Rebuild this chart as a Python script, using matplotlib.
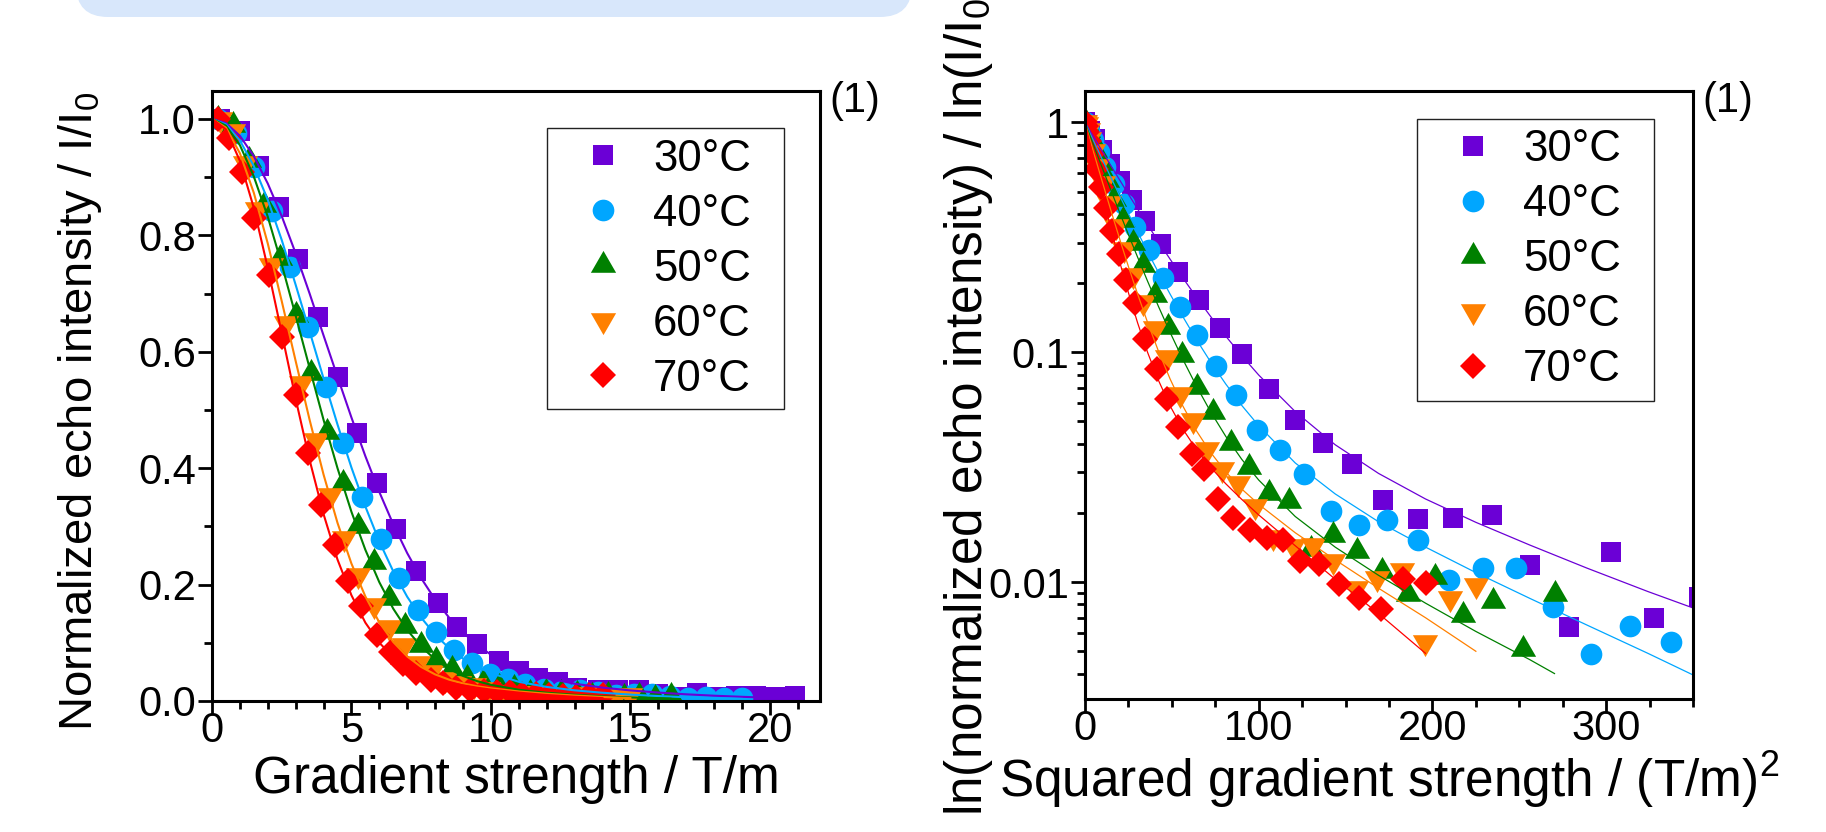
import matplotlib
matplotlib.use('Agg')
import matplotlib.pyplot as plt
import matplotlib.ticker as mticker
from matplotlib.patches import FancyBboxPatch, Rectangle
from matplotlib.transforms import IdentityTransform
import numpy as np

plt.rcParams['font.family'] = ['Liberation Sans', 'DejaVu Sans']
plt.rcParams['mathtext.fontset'] = 'custom'
plt.rcParams['mathtext.rm'] = 'Liberation Sans'
plt.rcParams['mathtext.default'] = 'regular'

# ---------------- data ----------------
labels = ['30°C', '40°C', '50°C', '60°C', '70°C']

g_30 = [0.3, 1.0, 1.7, 2.4, 3.1, 3.8, 4.5, 5.2, 5.9, 6.6, 7.3, 8.1, 8.8, 9.5, 10.3, 11.0, 11.7,
        12.4, 13.1, 13.85, 14.55, 15.3, 16.0, 16.7, 17.4, 18.1, 18.8, 19.5, 20.2, 20.9]
I_30 = [1.0, 0.979, 0.919, 0.848, 0.759, 0.659, 0.556, 0.461, 0.374, 0.296, 0.223, 0.168, 0.127,
        0.098, 0.0695, 0.0509, 0.0403, 0.0328, 0.0227, 0.0189, 0.019, 0.0195, 0.0119, 0.0064,
        0.0135, 0.0070, 0.0086, 0.009, 0.0075, 0.008]

g_40 = [0.23, 0.87, 1.51, 2.15, 2.79, 3.43, 4.07, 4.71, 5.38, 6.05, 6.7, 7.38, 8.02, 8.67, 9.32,
        9.96, 10.6, 11.24, 11.89, 12.55, 13.18, 13.84, 14.48, 15.13, 15.76, 16.42, 17.06, 17.71,
        18.36, 19.0]
I_40 = [1.0, 0.975, 0.918, 0.842, 0.745, 0.643, 0.54, 0.443, 0.351, 0.278, 0.211, 0.157, 0.119,
        0.0872, 0.065, 0.0458, 0.0375, 0.0295, 0.0204, 0.0178, 0.0186, 0.0153, 0.0102, 0.0115,
        0.0115, 0.0078, 0.00486, 0.00644, 0.0055, 0.006]

g_50 = [0.2, 0.76, 1.32, 1.88, 2.44, 3.0, 3.56, 4.12, 4.68, 5.24, 5.8, 6.36, 6.92, 7.48, 8.04,
        8.6, 9.16, 9.72, 10.28, 10.84, 11.4, 11.96, 12.52, 13.08, 13.64, 14.2, 14.76, 15.32,
        15.88, 16.44]
I_50 = [1.0, 0.99, 0.93, 0.852, 0.761, 0.663, 0.563, 0.463, 0.375, 0.30, 0.239, 0.177, 0.129,
        0.097, 0.0707, 0.055, 0.0401, 0.0317, 0.0245, 0.0226, 0.014, 0.016, 0.0137, 0.0112,
        0.0089, 0.0105, 0.0072, 0.0083, 0.0051, 0.0089]

g_60 = [0.3, 0.75, 1.2, 1.6, 2.13, 2.67, 3.2, 3.74, 4.22, 4.72, 5.25, 5.8, 6.35, 6.88, 7.4, 7.87,
        8.37, 8.87, 9.4, 9.89, 10.41, 10.93, 11.45, 11.96, 12.5, 12.96, 13.5, 13.99, 14.5, 15.0]
I_60 = [1.0, 0.98, 0.925, 0.845, 0.749, 0.649, 0.546, 0.448, 0.354, 0.28, 0.216, 0.1655, 0.127,
        0.0955, 0.066, 0.0506, 0.038, 0.0312, 0.0269, 0.0214, 0.0157, 0.0143, 0.0145, 0.0123,
        0.0094, 0.0104, 0.0113, 0.0055, 0.0085, 0.0097]

g_70 = [0.23, 0.6, 1.06, 1.5, 2.05, 2.52, 3.0, 3.44, 3.92, 4.4, 4.88, 5.36, 5.9, 6.43, 6.86, 7.33,
        7.84, 8.29, 8.76, 9.24, 9.75, 10.23, 10.67, 11.13, 11.61, 12.1, 12.57, 13.05, 13.52, 14.01]
I_70 = [1.0, 0.967, 0.909, 0.829, 0.732, 0.626, 0.526, 0.426, 0.337, 0.268, 0.206, 0.163, 0.114,
        0.0849, 0.0629, 0.0473, 0.036, 0.0309, 0.0229, 0.0191, 0.0168, 0.0155, 0.0153, 0.0123,
        0.012, 0.0098, 0.0085, 0.0076, 0.0103, 0.0099]

# fitted curves
fit_g_30 = [0, 0.5, 1, 1.5, 2, 2.5, 3, 3.5, 4, 4.5, 5, 5.5, 6, 6.5, 7, 7.5, 8, 8.5, 9, 9.5, 10,
            11, 12, 13, 14, 15, 16, 17, 18, 19, 20, 21]
fit_I_30 = [1.0, 0.993, 0.971, 0.936, 0.889, 0.833, 0.769, 0.700, 0.628, 0.557, 0.487, 0.4205,
            0.359, 0.3035, 0.254, 0.211, 0.1743, 0.1433, 0.1176, 0.0966, 0.0796, 0.0552, 0.0396,
            0.0297, 0.023, 0.0182, 0.0145, 0.0115, 0.0091, 0.0072, 0.0056, 0.0043]

fit_g_40 = [0, 0.5, 1, 1.5, 2, 2.5, 3, 3.5, 4, 4.5, 5, 5.5, 6, 6.5, 7, 7.5, 8, 8.5, 9, 9.5, 10,
            11, 12, 13, 14, 15, 16, 17, 18, 19]
fit_I_40 = [1.0, 0.9907, 0.963, 0.919, 0.861, 0.792, 0.715, 0.635, 0.554, 0.475, 0.401, 0.334,
            0.274, 0.2226, 0.179, 0.1432, 0.114, 0.0909, 0.0728, 0.0587, 0.0479, 0.0330, 0.0242,
            0.0183, 0.0142, 0.0110, 0.0085, 0.0065, 0.0049, 0.0036]

fit_g_50 = [0, 0.5, 1, 1.5, 2, 2.5, 3, 3.5, 4, 4.5, 5, 5.5, 6, 6.5, 7, 7.5, 8, 8.5, 9, 9.5, 10,
            11, 12, 13, 14, 15, 16, 16.44]
fit_I_50 = [1.0, 0.9885, 0.955, 0.901, 0.832, 0.750, 0.662, 0.572, 0.483, 0.400, 0.325, 0.2596,
            0.204, 0.1585, 0.122, 0.0934, 0.0716, 0.0552, 0.0431, 0.0342, 0.0278, 0.0193, 0.0142,
            0.0107, 0.0081, 0.0061, 0.0046, 0.0040]

fit_g_60 = [0, 0.5, 1, 1.5, 2, 2.5, 3, 3.5, 4, 4.5, 5, 5.5, 6, 6.5, 7, 7.5, 8, 8.5, 9, 9.5, 10,
            11, 12, 13, 14, 15]
fit_I_60 = [1.0, 0.985, 0.941, 0.873, 0.786, 0.687, 0.584, 0.483, 0.389, 0.306, 0.236, 0.1795,
            0.135, 0.1013, 0.0765, 0.0585, 0.0457, 0.0367, 0.0302, 0.0254, 0.0218, 0.0164, 0.0125,
            0.0094, 0.0070, 0.0050]

fit_g_70 = [0, 0.5, 1, 1.5, 2, 2.5, 3, 3.5, 4, 4.5, 5, 5.5, 6, 6.5, 7, 7.5, 8, 8.5, 9, 9.5, 10,
            11, 12, 13, 14]
fit_I_70 = [1.0, 0.982, 0.928, 0.847, 0.744, 0.632, 0.519, 0.414, 0.321, 0.243, 0.1816, 0.1345,
            0.100, 0.0756, 0.0584, 0.0464, 0.0379, 0.0316, 0.0268, 0.0229, 0.0196, 0.0144, 0.0103,
            0.0073, 0.0049]

# ---------------- styles ----------------
colors = ['#6B00D6', '#00A6FF', '#008000', '#FF8000', '#FF0000']
markers = ['s', 'o', (3, 0, 0), (3, 0, 180), 'D']
msizes = [14.4, 15.6, 21, 21, 13.6]

series = [(g_30, I_30, fit_g_30, fit_I_30), (g_40, I_40, fit_g_40, fit_I_40),
          (g_50, I_50, fit_g_50, fit_I_50), (g_60, I_60, fit_g_60, fit_I_60),
          (g_70, I_70, fit_g_70, fit_I_70)]

W, H = 1826, 832
fig = plt.figure(figsize=(W / 100, H / 100), dpi=100)


def px_axes(x0, y0, x1, y1):
    return fig.add_axes([x0 / W, 1 - y1 / H, (x1 - x0) / W, (y1 - y0) / H])


# banner at top
banner = FancyBboxPatch((76, H - 17), 836, 200, boxstyle='round,pad=0,rounding_size=32',
                        transform=IdentityTransform(), fc='#D8E7FB', ec='none')
fig.add_artist(banner)

ax1 = px_axes(212, 91, 820, 701)
ax2 = px_axes(1085, 91, 1693, 699)

TICK_FS = 30
LEG_FS = 31.5
LAB_FS = 37

handles = []
for (g, I, fg, fI), c, m, ms in zip(series, colors, markers, msizes):
    h, = ax1.plot(g, I, ls='none', marker=m, ms=ms, color=c, mew=0)
    handles.append(h)
    ax2.plot(np.asarray(g) ** 2, I, ls='none', marker=m, ms=ms, color=c, mew=0)
for (g, I, fg, fI), c in zip(series, colors):
    ax1.plot(fg, fI, color=c, lw=1.5)
    ax2.plot(np.asarray(fg) ** 2, fI, color=c, lw=0.9)

# axes 1
ax1.set_xlim(0, 21.8)
ax1.set_ylim(0, 1.048)
ax1.xaxis.set_major_locator(mticker.MultipleLocator(5))
ax1.xaxis.set_minor_locator(mticker.MultipleLocator(1))
ax1.yaxis.set_major_locator(mticker.MultipleLocator(0.2))
ax1.yaxis.set_minor_locator(mticker.MultipleLocator(0.1))
ax1.yaxis.set_major_formatter(mticker.FormatStrFormatter('%.1f'))
ax1.set_xlabel('Gradient strength / T/m', fontsize=LAB_FS)
ax1.set_ylabel('Normalized echo intensity / I/I$_0$', fontsize=34)
ax1.xaxis.set_label_coords(0.5, -0.128)
ax1.xaxis.label.set_va('center')
ax1.yaxis.set_label_coords(-0.217, 0.475)
ax1.yaxis.label.set_va('center')

# axes 2
ax2.set_yscale('log')
ax2.set_xlim(0, 350)
ax2.set_ylim(0.0031, 1.37)
ax2.xaxis.set_major_locator(mticker.MultipleLocator(100))
ax2.xaxis.set_minor_locator(mticker.MultipleLocator(25))
ax2.yaxis.set_major_locator(mticker.LogLocator(base=10))
ax2.yaxis.set_minor_locator(mticker.LogLocator(base=10, subs=np.arange(2, 10)))
ax2.yaxis.set_major_formatter(mticker.FuncFormatter(lambda v, p: f'{v:g}'))
ax2.yaxis.set_minor_formatter(mticker.NullFormatter())
ax2.set_xlabel('Squared gradient strength / (T/m)$^2$', fontsize=LAB_FS)
ax2.set_ylabel('ln(normalized echo intensity) / ln(I/I$_0$)', fontsize=LAB_FS)
ax2.xaxis.set_label_coords(0.5, -0.132)
ax2.xaxis.label.set_va('center')
ax2.yaxis.set_label_coords(-0.192, 0.493)
ax2.yaxis.label.set_va('center')

for ax in (ax1, ax2):
    for sp in ax.spines.values():
        sp.set_linewidth(2.2)
    ax.tick_params(which='both', direction='out', top=False, right=False, width=2.0,
                   labelsize=TICK_FS)
    ax.tick_params(which='major', length=10)
    ax.tick_params(which='minor', length=5.8)
    ax.tick_params(axis='x', which='both', pad=-2.5)
    ax.tick_params(axis='y', which='both', pad=1.5)
    ax.text(1.015, 0.9836, '(1)', transform=ax.transAxes, ha='left', va='center', fontsize=30)

# legends (entries) + frame
leg_boxes = {ax1: (0.551, 0.4787, 0.390, 0.4606), ax2: (0.546, 0.490, 0.390, 0.464)}
leg_anchor = {ax1: (0.5999, 0.922), ax2: (0.595, 0.937)}
for ax in (ax1, ax2):
    leg = ax.legend(handles, labels, loc='upper left', bbox_to_anchor=leg_anchor[ax],
                    bbox_transform=ax.transAxes, frameon=False, borderpad=0, borderaxespad=0,
                    handlelength=1.2, handletextpad=0.54, labelspacing=0.32, fontsize=LEG_FS,
                    numpoints=1)
    x, y, w, h = leg_boxes[ax]
    ax.add_patch(Rectangle((x, y), w, h, transform=ax.transAxes, fill=False, lw=1.0,
                           ec='#222222', zorder=5, clip_on=False))

fig.savefig('out.png', dpi=100)
